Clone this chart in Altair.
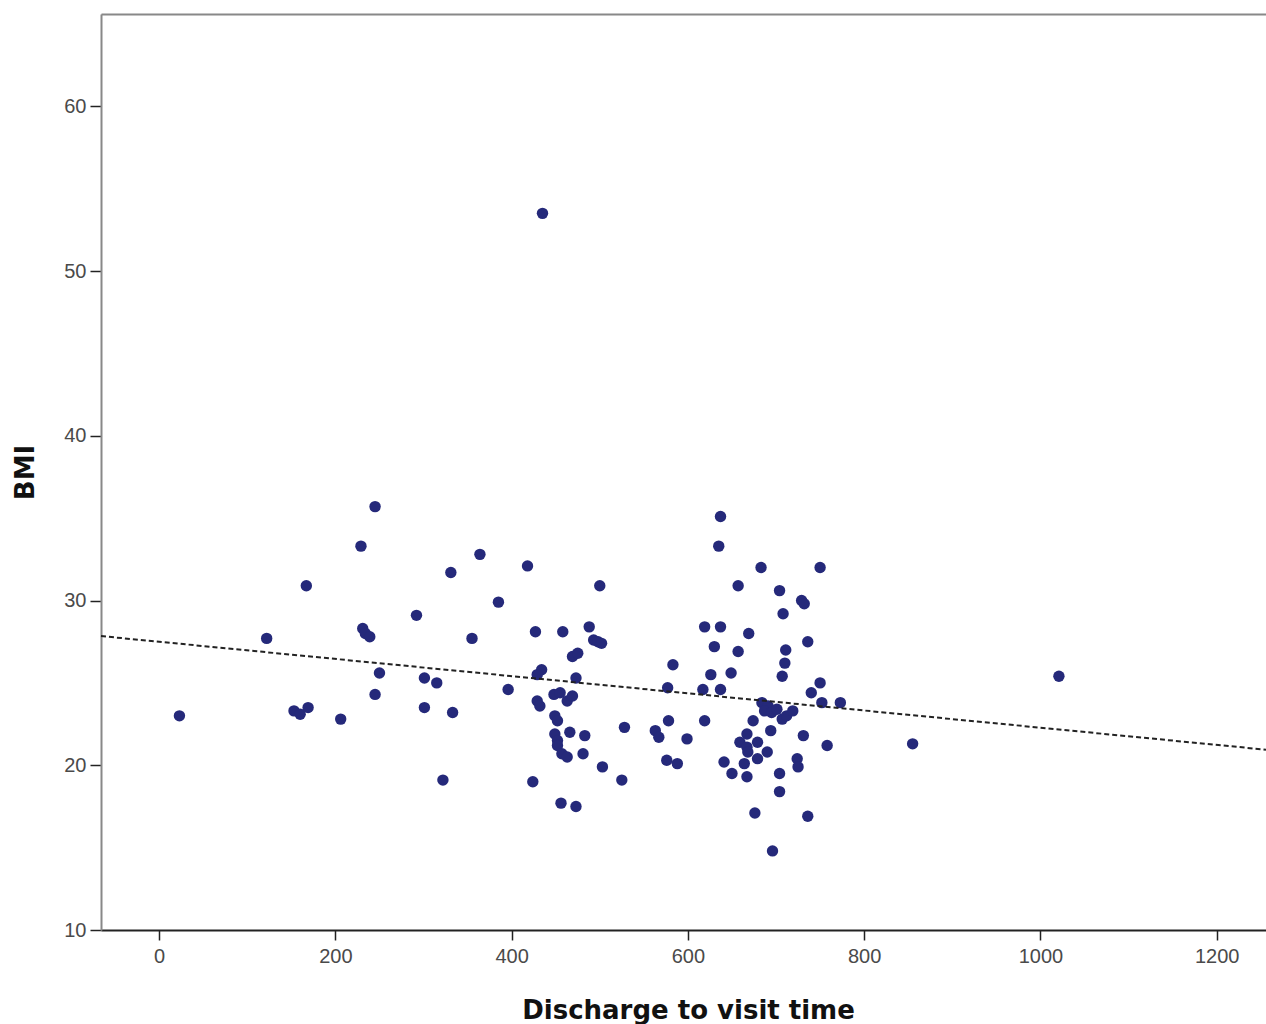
import altair as alt
import pandas as pd

# Discharge to visit time (x) and BMI (y)
discharge_time = [
    122, 167, 23, 153, 160, 169, 206, 229, 231, 234, 239, 245, 245, 250, 292,
    301, 301, 315, 322, 331, 333, 355, 364, 385, 396,
    435, 418, 427, 458, 488, 493, 498, 502, 469, 475, 434, 429, 473, 448, 455,
    463, 469, 429, 432, 449, 452, 466, 483, 449, 452, 452, 457, 463, 481, 503,
    424, 456, 473, 500,
    528, 525, 563, 567, 576, 588, 577, 578, 583, 599,
    637, 635, 683, 750, 657, 704, 729, 732, 708, 619, 637, 669, 630, 657, 711,
    736, 710, 626, 649, 707, 750, 740, 617, 637, 684, 691, 687, 695, 701, 707,
    712, 719, 752, 773, 674, 619, 694, 731, 758, 667, 659, 667, 679, 668, 690,
    679, 641, 664, 650, 667, 704, 704, 724, 725, 676, 736, 696,
    855, 1021,
]
bmi = [
    27.7, 30.9, 23.0, 23.3, 23.1, 23.5, 22.8, 33.3, 28.3, 28.0, 27.8, 35.7, 24.3, 25.6, 29.1,
    25.3, 23.5, 25.0, 19.1, 31.7, 23.2, 27.7, 32.8, 29.9, 24.6,
    53.5, 32.1, 28.1, 28.1, 28.4, 27.6, 27.5, 27.4, 26.6, 26.8, 25.8, 25.5, 25.3, 24.3, 24.4,
    23.9, 24.2, 23.9, 23.6, 23.0, 22.7, 22.0, 21.8, 21.9, 21.5, 21.2, 20.7, 20.5, 20.7, 19.9,
    19.0, 17.7, 17.5, 30.9,
    22.3, 19.1, 22.1, 21.7, 20.3, 20.1, 24.7, 22.7, 26.1, 21.6,
    35.1, 33.3, 32.0, 32.0, 30.9, 30.6, 30.0, 29.8, 29.2, 28.4, 28.4, 28.0, 27.2, 26.9, 27.0,
    27.5, 26.2, 25.5, 25.6, 25.4, 25.0, 24.4, 24.6, 24.6, 23.8, 23.6, 23.3, 23.2, 23.4, 22.8,
    23.0, 23.3, 23.8, 23.8, 22.7, 22.7, 22.1, 21.8, 21.2, 21.9, 21.4, 21.1, 21.4, 20.8, 20.8,
    20.4, 20.2, 20.1, 19.5, 19.3, 19.5, 18.4, 20.4, 19.9, 17.1, 16.9, 14.8,
    21.3, 25.4,
]
x_ticks = [0, 200, 400, 600, 800, 1000, 1200]
y_ticks = [10, 20, 30, 40, 50, 60]
x_domain = [-66, 1256]
y_domain = [10, 65.6]

df = pd.DataFrame({"t": discharge_time, "bmi": bmi})

W, H = 1165, 916
xscale = alt.Scale(domain=x_domain, nice=False, zero=False)
yscale = alt.Scale(domain=y_domain, nice=False, zero=False)

x_axis = alt.Axis(
    values=x_ticks, format="d", grid=False, domainColor="#222222", domainWidth=2,
    tickColor="#222222", tickWidth=1.5, tickSize=10, labelPadding=6,
    labelFont="Liberation Sans", labelFontSize=20, labelColor="#4a4a4a",
    title="Discharge to visit time", titleFont="DejaVu Sans", titleFontWeight="bold",
    titleFontSize=26, titleColor="#111111", titleX=587, titleY=88,
    titleBaseline="alphabetic", titleAnchor="middle",
)
y_axis = alt.Axis(
    values=y_ticks, format="d", grid=False, domainColor="#888888", domainWidth=2,
    tickColor="#222222", tickWidth=1.5, tickSize=11, labelPadding=4,
    labelFont="Liberation Sans", labelFontSize=20, labelColor="#4a4a4a",
    title="BMI", titleFont="DejaVu Sans", titleFontWeight="bold",
    titleFontSize=26, titleColor="#111111", titleX=-63, titleY=458,
    titleAnchor="middle",
)

points = alt.Chart(df).mark_circle(size=130, color="#25297a", opacity=1).encode(
    x=alt.X("t:Q", scale=xscale, axis=x_axis),
    y=alt.Y("bmi:Q", scale=yscale, axis=y_axis),
)

fit = alt.Chart(df).transform_regression(
    "t", "bmi", extent=x_domain
).mark_line(color="#222222", strokeDash=[5, 3], strokeWidth=2).encode(
    x=alt.X("t:Q", scale=xscale, axis=None),
    y=alt.Y("bmi:Q", scale=yscale, axis=y_axis),
)

top_frame = alt.Chart(df).mark_point(opacity=0).encode(
    x=alt.X("t:Q", scale=xscale, axis=alt.Axis(orient="top", labels=False, ticks=False,
                                                 grid=False, title=None,
                                                 domainColor="#888888", domainWidth=2)),
)

chart = alt.layer(points, fit, top_frame).resolve_axis(x="independent").properties(
    width=W, height=H,
    autosize=alt.AutoSizeParams(type="none"),
    padding={"left": 101, "top": 14, "right": 0, "bottom": 94},
).configure_view(strokeWidth=0).configure(background="white")

chart.save("out.html", embed_options={"renderer": "svg", "actions": False})
